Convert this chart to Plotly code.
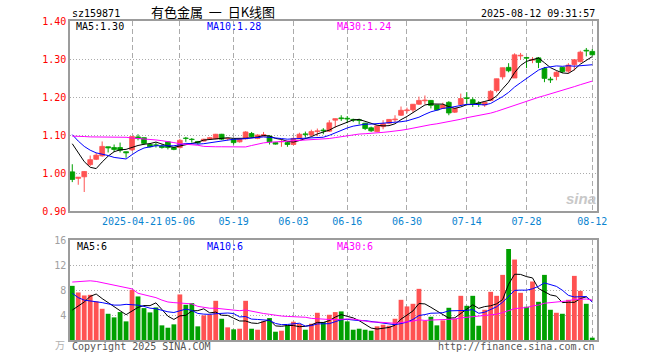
import plotly.graph_objects as go
import pandas as pd

# ---------------- data ----------------
tick_idx = [10, 18, 27, 37, 46, 56, 66, 76, 87]
tick_labels = ["2025-04-21", "05-06", "05-19", "06-03", "06-16", "06-30", "07-14", "07-28", "08-12"]

opens = [1.003, 0.986, 0.990, 1.022, 1.036, 1.045, 1.069, 1.067, 1.067, 1.056,
         1.061, 1.095, 1.093, 1.075, 1.074, 1.071, 1.082, 1.067, 1.067, 1.092,
         1.089, 1.083, 1.084, 1.089, 1.090, 1.102, 1.090, 1.089, 1.082, 1.090,
         1.104, 1.091, 1.097, 1.097, 1.080, 1.082, 1.080, 1.075, 1.090, 1.103,
         1.100, 1.109, 1.113, 1.110, 1.139, 1.145, 1.144, 1.141, 1.140, 1.131,
         1.119, 1.109, 1.122, 1.131, 1.140, 1.152, 1.164, 1.166, 1.181, 1.190,
         1.191, 1.179, 1.170, 1.186, 1.160, 1.180, 1.198, 1.193, 1.184, 1.179,
         1.191, 1.217, 1.253, 1.278, 1.250, 1.308, 1.304, 1.297, 1.303, 1.275,
         1.247, 1.254, 1.278, 1.268, 1.285, 1.293, 1.323, 1.320]
highs = [1.023, 0.989, 1.005, 1.046, 1.053, 1.083, 1.069, 1.075, 1.080, 1.056,
         1.096, 1.102, 1.093, 1.078, 1.080, 1.075, 1.084, 1.068, 1.090, 1.095,
         1.092, 1.084, 1.090, 1.095, 1.103, 1.103, 1.093, 1.089, 1.090, 1.110,
         1.108, 1.102, 1.108, 1.099, 1.081, 1.089, 1.084, 1.093, 1.106, 1.109,
         1.114, 1.117, 1.118, 1.139, 1.143, 1.152, 1.150, 1.143, 1.143, 1.132,
         1.122, 1.124, 1.139, 1.141, 1.152, 1.175, 1.172, 1.181, 1.201, 1.204,
         1.192, 1.179, 1.185, 1.189, 1.171, 1.209, 1.213, 1.199, 1.189, 1.189,
         1.218, 1.248, 1.277, 1.289, 1.315, 1.316, 1.305, 1.305, 1.305, 1.279,
         1.253, 1.268, 1.279, 1.289, 1.300, 1.322, 1.329, 1.326]
lows = [0.976, 0.969, 0.950, 1.018, 1.034, 1.043, 1.054, 1.055, 1.054, 1.040,
        1.058, 1.086, 1.075, 1.067, 1.067, 1.064, 1.062, 1.060, 1.064, 1.082,
        1.080, 1.075, 1.083, 1.087, 1.089, 1.087, 1.086, 1.075, 1.080, 1.088,
        1.093, 1.089, 1.096, 1.075, 1.075, 1.069, 1.069, 1.073, 1.090, 1.093,
        1.097, 1.097, 1.102, 1.108, 1.119, 1.137, 1.131, 1.134, 1.128, 1.113,
        1.108, 1.108, 1.115, 1.128, 1.134, 1.150, 1.157, 1.159, 1.179, 1.181,
        1.170, 1.164, 1.169, 1.152, 1.158, 1.178, 1.182, 1.174, 1.174, 1.174,
        1.189, 1.212, 1.246, 1.265, 1.250, 1.298, 1.276, 1.289, 1.276, 1.239,
        1.237, 1.244, 1.263, 1.263, 1.270, 1.291, 1.307, 1.309]
closes = [0.983, 0.989, 1.004, 1.035, 1.047, 1.070, 1.066, 1.062, 1.060, 1.053,
          1.096, 1.091, 1.078, 1.069, 1.073, 1.067, 1.067, 1.062, 1.086, 1.091,
          1.088, 1.079, 1.089, 1.093, 1.102, 1.089, 1.091, 1.080, 1.089, 1.108,
          1.096, 1.100, 1.101, 1.082, 1.076, 1.083, 1.075, 1.091, 1.102, 1.101,
          1.109, 1.111, 1.111, 1.132, 1.143, 1.143, 1.142, 1.139, 1.138, 1.117,
          1.111, 1.124, 1.130, 1.141, 1.142, 1.165, 1.166, 1.181, 1.191, 1.192,
          1.178, 1.166, 1.179, 1.158, 1.170, 1.196, 1.196, 1.182, 1.182, 1.186,
          1.215, 1.248, 1.277, 1.269, 1.311, 1.310, 1.302, 1.299, 1.291, 1.249,
          1.245, 1.265, 1.267, 1.284, 1.298, 1.318, 1.321, 1.311]
volumes = [8.69, 7.63, 7.15, 7.25, 6.19, 5.01, 4.21, 3.63, 4.48, 2.99,
           8.05, 6.99, 5.12, 4.43, 5.23, 2.35, 1.97, 2.51, 7.31, 5.65,
           5.92, 2.19, 3.95, 4.05, 6.29, 3.41, 2.03, 1.71, 1.81, 6.29,
           1.81, 1.65, 2.99, 3.52, 1.33, 1.49, 2.35, 2.93, 2.56, 1.65,
           2.61, 4.37, 2.88, 4.05, 4.48, 4.59, 2.99, 1.65, 1.81, 1.65,
           1.49, 2.19, 2.45, 2.29, 3.41, 6.45, 5.39, 5.81, 8.21, 3.09,
           3.73, 2.35, 3.15, 5.17, 3.41, 7.09, 5.49, 7.09, 2.29, 4.85,
           7.73, 7.09, 10.45, 14.61, 12.91, 7.57, 5.33, 9.39, 6.13, 10.45,
           4.85, 4.37, 4.21, 6.45, 10.29, 7.89, 5.81, 0.37]

# moving-average values at the left edge (their windows start before the shown data)
ma5_head = [1.077, 1.053, 1.030, 1.015]
ma10_head = [1.101, 1.084, 1.070, 1.060, 1.053, 1.050, 1.046, 1.041, 1.038]
ma30_head = [1.097, 1.097, 1.096, 1.095, 1.095, 1.095, 1.095, 1.095, 1.094, 1.094,
             1.092, 1.091, 1.089, 1.088, 1.087, 1.085, 1.083, 1.080, 1.077, 1.076,
             1.075, 1.073, 1.070, 1.069, 1.069, 1.069, 1.069, 1.069, 1.070]
vma5_head = [4.8, 5.4, 6.1, 7.0]
vma10_head = [7.5, 6.8, 6.4, 6.3, 6.2, 6.0, 5.8, 5.6, 5.6]
vma30_head = [9.3, 9.4, 9.5, 9.5, 9.4, 9.2, 9.0, 8.8, 8.6, 8.5,
              8.2, 7.5, 7.3, 7.1, 6.8, 6.4, 6.1, 6.0, 5.9, 5.9,
              5.8, 5.4, 5.2, 5.1, 5.1, 5.0, 4.8, 4.75, 4.7]

price_legend = ["MA5:1.30", "MA10:1.28", "MA30:1.24"]
vol_legend = ["MA5:6", "MA10:6", "MA30:6"]
header_code = "sz159871"
header_title = "有色金属&nbsp;&nbsp;一&nbsp;&nbsp;日K线图"
header_time = "2025-08-12 09:31:57"


def moving_avg(values, n, head):
    s = pd.Series(values, dtype=float).rolling(n).mean()
    s.iloc[:n - 1] = head
    return s.tolist()


idx = list(range(len(closes)))
ma5 = moving_avg(closes, 5, ma5_head)
ma10 = moving_avg(closes, 10, ma10_head)
ma30 = moving_avg(closes, 30, ma30_head)
vma5 = moving_avg(volumes, 5, vma5_head)
vma10 = moving_avg(volumes, 10, vma10_head)
vma30 = moving_avg(volumes, 30, vma30_head)

# ---------------- styling ----------------
W, H = 660, 360
ML, MR, MT, MB = 70, 63, 21, 20
PW, PH = W - ML - MR, H - MT - MB
RED = "#FF5252"
GREEN = "#00A000"
MONO = "DejaVu Sans Mono"
GRID = "#ababab"
BORDER = "#9c9c9c"


def px(x):
    return (x - ML) / PW


def py(y):
    return (H - MB - y) / PH


fig = go.Figure()

up = [c >= o for o, c in zip(opens, closes)]
colors = [RED if u else GREEN for u in up]

# wicks (high-low lines), one trace per colour
for flag, col in [(True, RED), (False, GREEN)]:
    wx, wy = [], []
    for i in idx:
        if up[i] == flag:
            wx += [i, i, None]
            wy += [lows[i], highs[i], None]
    fig.add_trace(go.Scatter(x=wx, y=wy, mode="lines", line=dict(color=col, width=1),
                             xaxis="x", yaxis="y", hoverinfo="skip", showlegend=False))

# candle bodies as floating bars
body_base = [min(o, c) for o, c in zip(opens, closes)]
body_len = [abs(c - o) for o, c in zip(opens, closes)]
fig.add_trace(go.Bar(x=idx, y=body_len, base=body_base, width=0.8,
                     marker=dict(color=colors, line=dict(color=colors, width=0.8)),
                     xaxis="x", yaxis="y", hoverinfo="skip", showlegend=False))

for vals, col in [(ma5, "#000000"), (ma10, "#0000FF"), (ma30, "#FF00FF")]:
    fig.add_trace(go.Scatter(x=idx, y=vals, mode="lines", line=dict(color=col, width=1),
                             xaxis="x", yaxis="y", hoverinfo="skip", showlegend=False))

fig.add_trace(go.Bar(x=idx, y=volumes, marker=dict(color=colors, line=dict(width=0)),
                     width=0.8, xaxis="x2", yaxis="y2", hoverinfo="skip", showlegend=False))
for vals, col in [(vma5, "#000000"), (vma10, "#0000FF"), (vma30, "#FF00FF")]:
    fig.add_trace(go.Scatter(x=idx, y=vals, mode="lines", line=dict(color=col, width=1),
                             xaxis="x2", yaxis="y2", hoverinfo="skip", showlegend=False))

xrange = [-0.38, 87.79]
common_x = dict(range=xrange, showline=True, linecolor=BORDER, linewidth=1.5, mirror=True,
                showgrid=True, gridcolor=GRID, gridwidth=1, griddash="5px,3px",
                tickvals=tick_idx, ticks="", zeroline=False, fixedrange=True)

main_bottom = py(211)
vol_top = py(240.3)

fig.update_layout(
    width=W, height=H,
    margin=dict(l=ML, r=MR, t=MT, b=MB, pad=0),
    paper_bgcolor="white", plot_bgcolor="white",
    showlegend=False, barmode="overlay",
    xaxis=dict(domain=[0, 1], anchor="y", ticktext=tick_labels,
               tickfont=dict(family=MONO, size=10, color="#0A84D0"),
               **common_x),
    yaxis=dict(domain=[main_bottom, 1], anchor="x", range=[0.90, 1.40],
               tickvals=[0.9, 1.0, 1.1, 1.2, 1.3, 1.4], tickformat=".2f",
               tickfont=dict(family=MONO, size=10, color="#FF0000"),
               showline=True, linecolor=BORDER, linewidth=1.5, mirror=True,
               showgrid=True, gridcolor=GRID, gridwidth=1, griddash="1px,2px",
               ticks="", zeroline=False, fixedrange=True),
    xaxis2=dict(domain=[0, 1], anchor="y2", showticklabels=False, matches="x", **common_x),
    yaxis2=dict(domain=[0, vol_top], anchor="x2", range=[0, 16],
                tickvals=[4, 8, 12, 16], ticktext=["4", "8", "12", "16"],
                tickfont=dict(family=MONO, size=10, color="#A0A0A0"),
                showline=True, linecolor=BORDER, linewidth=1.5, mirror=True,
                showgrid=True, gridcolor=GRID, gridwidth=1, griddash="1px,2px",
                ticks="", zeroline=False, fixedrange=True),
)

ann = []


def text(x, y, s, color="#000000", anchor="left", size=10, family=MONO, **kw):
    ann.append(dict(x=px(x), y=py(y), xref="paper", yref="paper", text=s, showarrow=False,
                    xanchor=anchor, yanchor="middle",
                    font=dict(family=family, size=size, color=color), **kw))


text(70, 13, header_code)
text(213, 12, header_title, anchor="center", size=13, family="Noto Sans CJK SC, " + MONO)
text(597, 13, header_time, anchor="right")
text(74, 26.5, price_legend[0], "#000000")
text(205, 26.5, price_legend[1], "#0000FF")
text(334.5, 26.5, price_legend[2], "#FF00FF")
text(75, 246.5, vol_legend[0], "#000000")
text(205, 246.5, vol_legend[1], "#0000FF")
text(335, 246.5, vol_legend[2], "#FF00FF")
text(67, 344, "万", "#B0B0B0", anchor="right", family="Noto Sans CJK SC")
text(70, 346, "Copyright 2025 SINA.COM", "#555555")
text(597, 346, "http://finance.sina.com.cn", "#555555", anchor="right")
text(581, 198, "<b><i>sina</i></b>", "#C8C8C8", anchor="center", size=15, family="Arial, Liberation Sans")
fig.update_layout(annotations=ann)

fig.write_html("out.html", config={"displayModeBar": False},
               post_script="document.body.style.margin='0';document.body.style.overflow='hidden';")
